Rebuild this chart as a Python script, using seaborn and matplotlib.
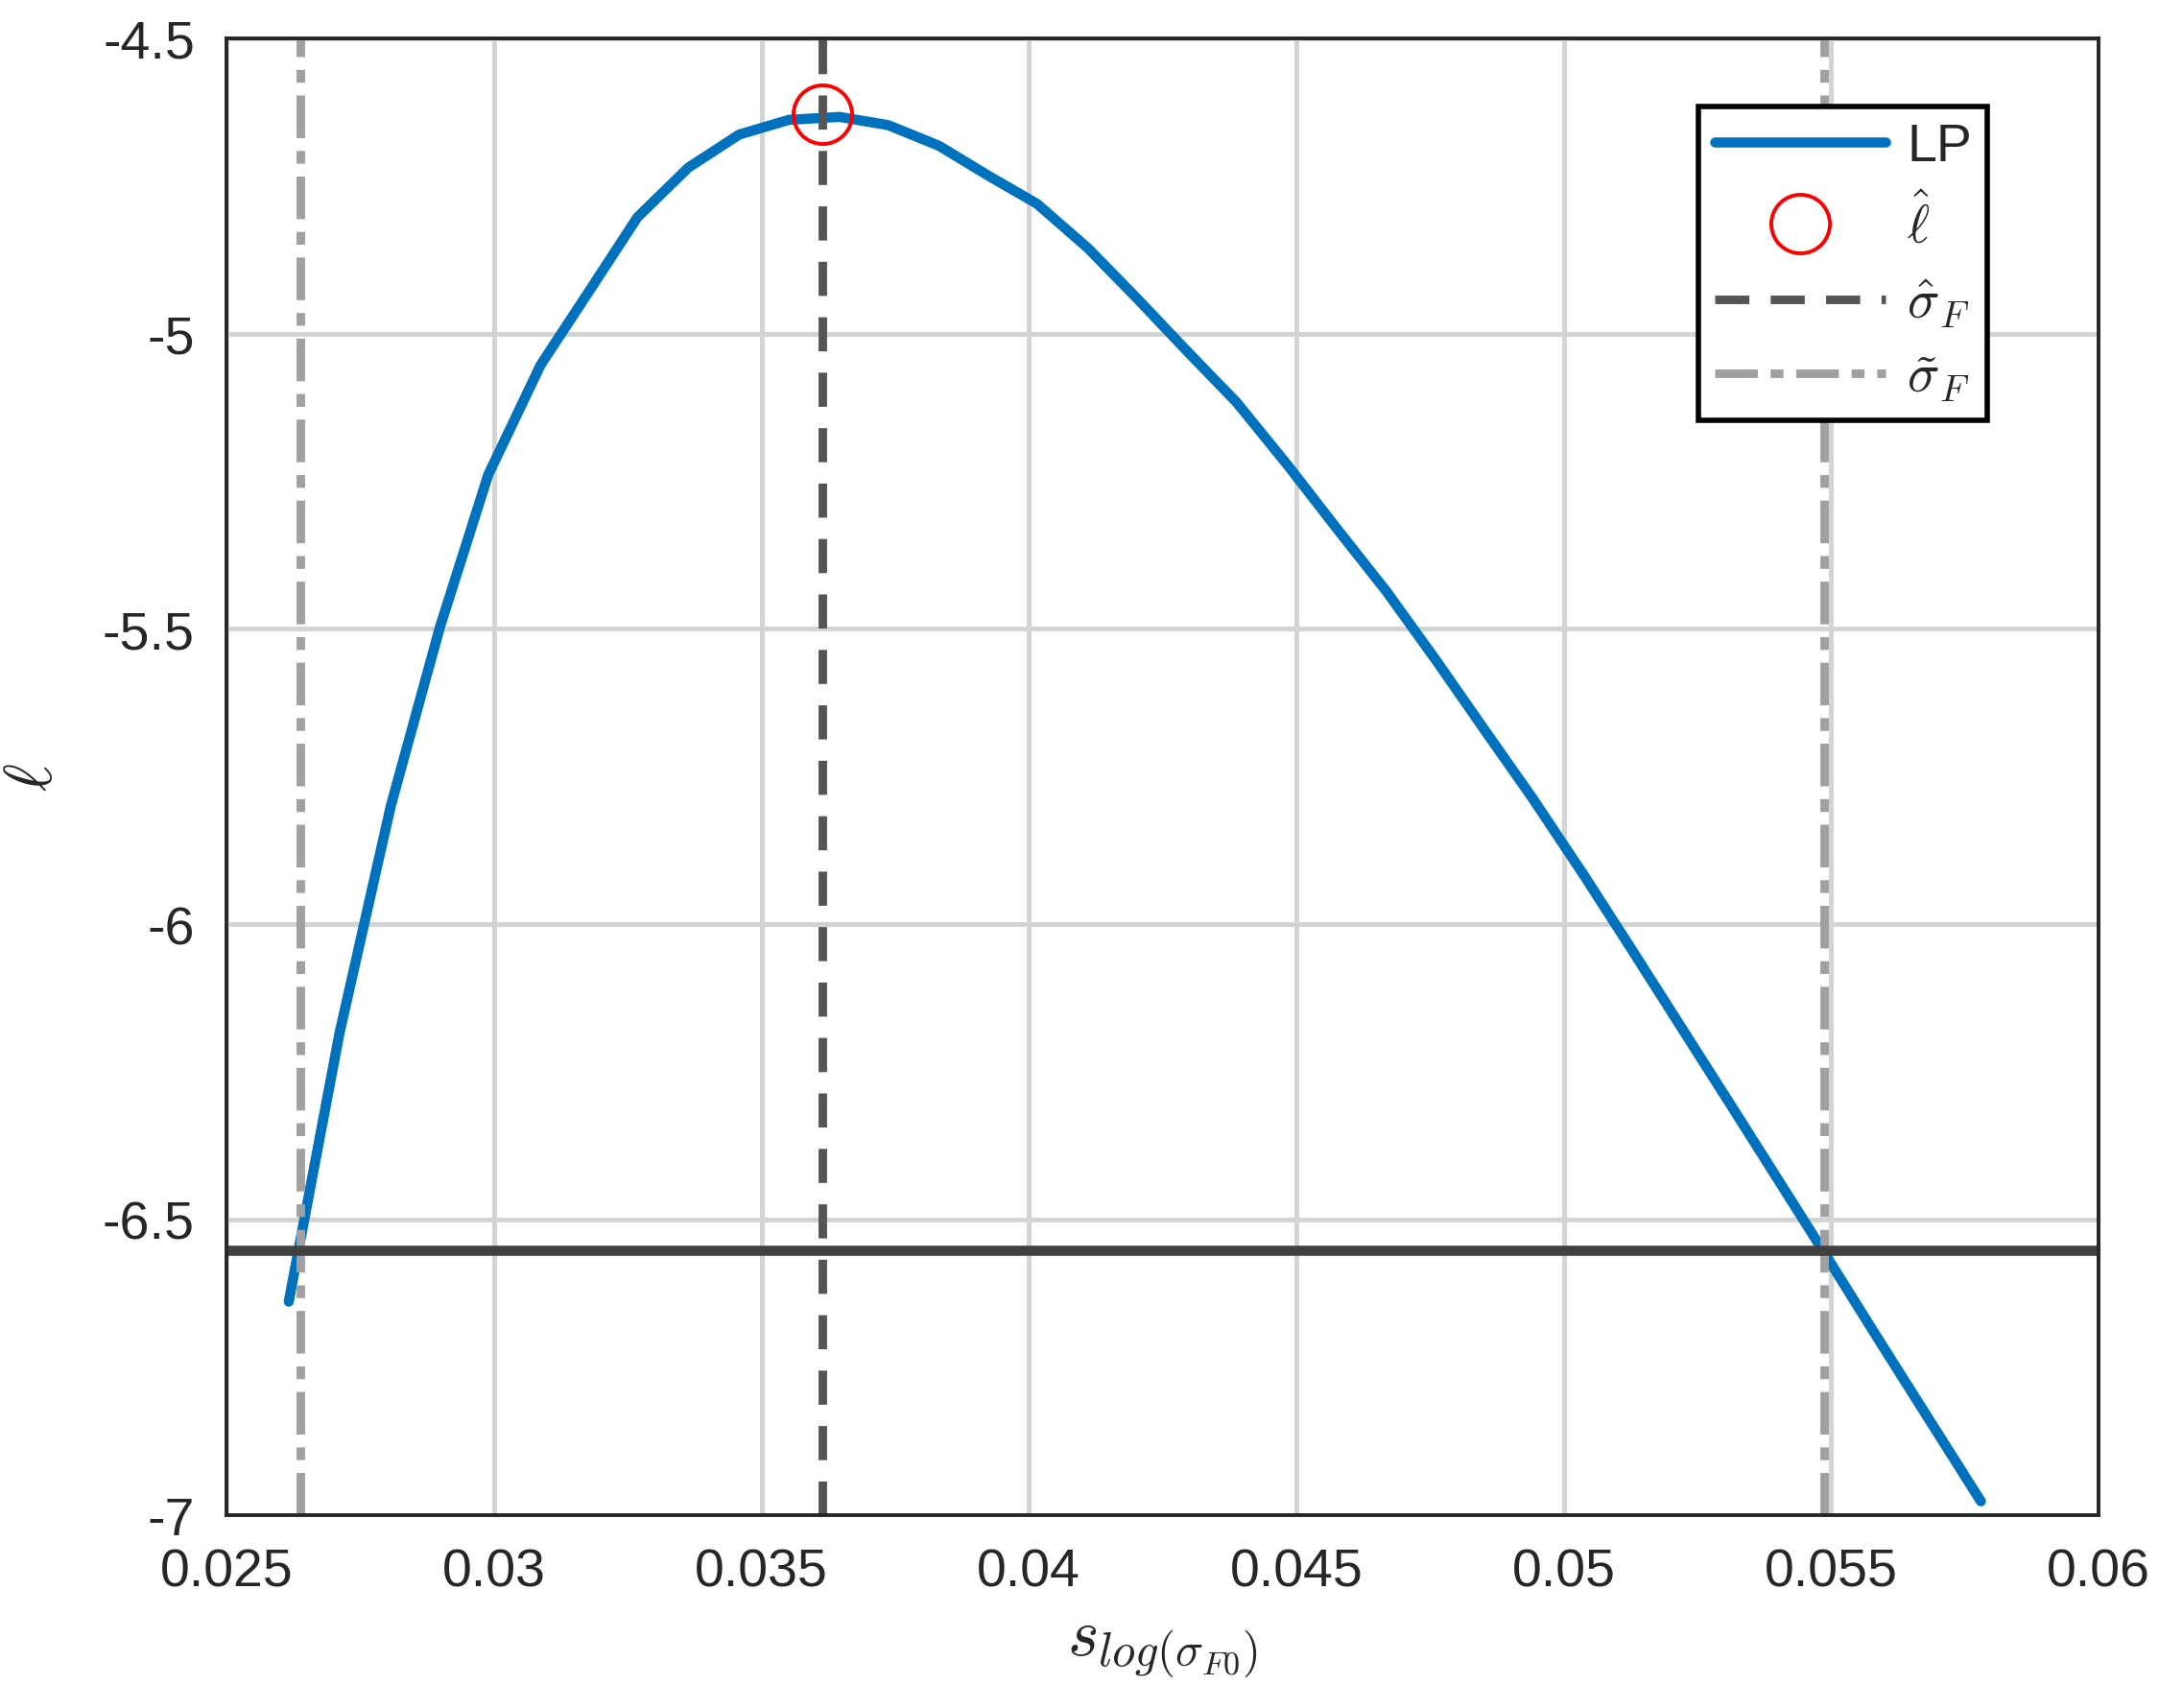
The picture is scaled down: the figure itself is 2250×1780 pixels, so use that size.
import numpy as np
import matplotlib
matplotlib.use('Agg')
import matplotlib.pyplot as plt
import seaborn as sns

# profile likelihood curve
s_vals = [0.02616, 0.02711, 0.02807, 0.02899, 0.02989, 0.03087, 0.03177, 0.03268,
          0.03363, 0.03458, 0.03551, 0.03646, 0.03737, 0.03832, 0.03925, 0.04015,
          0.0411, 0.04205, 0.04295, 0.04388, 0.04484, 0.04574, 0.04669, 0.04762,
          0.04852, 0.04942, 0.05037, 0.05128, 0.05218, 0.05313, 0.05406, 0.05496,
          0.05592, 0.05687, 0.0578]
lp_vals = [-6.639, -6.184, -5.799, -5.496, -5.239, -5.053, -4.929, -4.803,
           -4.719, -4.663, -4.638, -4.633, -4.647, -4.682, -4.733, -4.780,
           -4.855, -4.943, -5.029, -5.116, -5.223, -5.328, -5.437, -5.554,
           -5.671, -5.787, -5.916, -6.044, -6.172, -6.307, -6.440, -6.569,
           -6.708, -6.844, -6.977]
s_hat = 0.03613
l_hat = -4.628
ci_bounds = [0.02637, 0.05486]
threshold = -6.552

sns.set_theme(style="whitegrid")
plt.rcParams['font.family'] = ['Liberation Sans', 'DejaVu Sans']
plt.rcParams['mathtext.fontset'] = 'cm'

fig = plt.figure(figsize=(11.25, 8.905), dpi=200)
ax = fig.add_axes([0.105, 0.113, 0.867, 0.864])

sns.lineplot(x=s_vals, y=lp_vals, ax=ax, color='#0072BD', linewidth=3.8, label='LP')
ax.plot([s_hat], [l_hat], 'o', markersize=22, markerfacecolor='none',
        markeredgecolor='red', markeredgewidth=1.4, linestyle='none', label=r'$\hat{\ell}$')
ax.axvline(s_hat, color='#555555', linestyle=(0, (4, 2.5)), linewidth=3.2, label=r'$\hat{\sigma}_F$')
for i, b in enumerate(ci_bounds):
    ax.axvline(b, color='#a0a0a0', linestyle=(0, (5, 1.5, 1.5, 1.5)), linewidth=3.2,
               label=r'$\tilde{\sigma}_F$' if i == 0 else None)
ax.axhline(threshold, color='#404040', linewidth=3.8)

ax.set_xlim(0.025, 0.06)
ax.set_ylim(-7, -4.5)
ax.set_xticks(np.arange(0.025, 0.0601, 0.005))
ax.set_xticklabels(['0.025', '0.03', '0.035', '0.04', '0.045', '0.05', '0.055', '0.06'])
ax.set_yticks([-7, -6.5, -6, -5.5, -5, -4.5])
ax.set_yticklabels(['-7', '-6.5', '-6', '-5.5', '-5', '-4.5'])
ax.tick_params(labelsize=20, direction='in', length=0, pad=12, colors='#262626')
ax.grid(True, color='#d4d4d4', linewidth=1.8)
ax.set_facecolor('white')
for sp in ax.spines.values():
    sp.set_color('#262626')
    sp.set_linewidth(1.4)

ax.set_xlabel(r'$s_{log(\sigma_{F0})}$', fontsize=25, labelpad=8)
ax.set_ylabel(r'$\ell$', fontsize=25, labelpad=14)

leg = ax.legend(loc='upper right', bbox_to_anchor=(0.955, 0.972), fontsize=20, frameon=True,
                fancybox=False, edgecolor='black', framealpha=1, handlelength=3.2,
                borderpad=0.3, labelspacing=0.45, handletextpad=0.4)
leg.get_frame().set_linewidth(2)

fig.savefig('out.png', dpi=200)
